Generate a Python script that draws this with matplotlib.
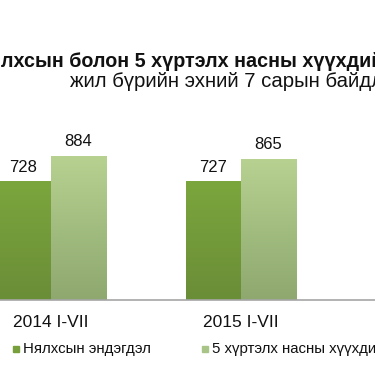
import numpy as np
import matplotlib
matplotlib.use('Agg')
import matplotlib.pyplot as plt
from matplotlib.colors import LinearSegmentedColormap
from matplotlib.patches import Rectangle

plt.rcParams['font.family'] = ['Liberation Sans', 'DejaVu Sans']

# data
categories = ['2014 I-VII', '2015 I-VII']
infant = [728, 727]
under5 = [884, 865]
series_names = ['Нялхсын эндэгдэл', '5 хүртэлх насны хүүхдийн эндэгдэл']
title = 'Нялхсын болон 5 хүртэлх насны хүүхдийн эндэгдэл'
subtitle = 'жил бүрийн эхний 7 сарын байдлаар'

W, H = 375, 366
PX = 0.1625  # pixels per unit on y
fig = plt.figure(figsize=(W / 100, H / 100), dpi=100)
r = fig.canvas.get_renderer()


def text_w(s, size, **kw):
    t = fig.text(0, 0, s, fontsize=size, **kw)
    w = t.get_window_extent(r).width
    t.remove()
    return w


# axes placed so the category spacing / scale matches the crop
ax = fig.add_axes([0, (H - 300) / H, 1, 200 / H])
x = np.arange(len(categories))
bw = 0.29

grad_dark = LinearSegmentedColormap.from_list('d', ['#6a8d37', '#7ba63d'])
grad_light = LinearSegmentedColormap.from_list('l', ['#8ea86f', '#b6d190'])

b1 = ax.bar(x - bw / 2, infant, bw, color='none')
b2 = ax.bar(x + bw / 2, under5, bw, color='none')
g = np.linspace(0, 1, 100).reshape(-1, 1)
for bars, cm in [(b1, grad_dark), (b2, grad_light)]:
    for rect in bars:
        x0, w_, h_ = rect.get_x(), rect.get_width(), rect.get_height()
        ax.imshow(g, cmap=cm, origin='lower', aspect='auto',
                  extent=(x0, x0 + w_, 0, h_), zorder=2)
ax.set_xlim(-51 / 190, (W - 51) / 190)
ax.set_ylim(0, 200 / PX)

for xi, v in zip(x, infant):
    ax.text(xi - bw / 2, v + 10 / PX, str(v), ha='center', va='baseline', fontsize=12, color='#111111')
for xi, v in zip(x, under5):
    ax.text(xi + bw / 2, v + 10 / PX, str(v), ha='center', va='baseline', fontsize=12, color='#111111')

ax.axhline(0, color='#a6a6a6', lw=1.2, zorder=3, clip_on=False)
for s in ax.spines.values():
    s.set_visible(False)
ax.set_xticks([])
ax.set_yticks([])
ax.patch.set_alpha(0)

for xi, c in zip(x, categories):
    ax.text(xi, -27 / PX, c, ha='center', va='baseline', fontsize=12.5, color='#111111')

# title, partly outside the crop on the left and right
ts = 11.5
ts = ts * 372 / text_w('лхсын болон 5 хүртэлх насны хүүхди', ts, fontweight='bold')
pre_w = text_w('Ня', ts, fontweight='bold')
fig.text((1 - pre_w) / W, 1 - 67 / H, title, fontsize=ts, fontweight='bold',
         va='baseline', ha='left', color='#111111')
ss = 11
ss = ss * 300 / text_w('жил бүрийн эхний 7 сарын байд', ss)
fig.text(70 / W, 1 - 87 / H, subtitle, fontsize=ss, va='baseline', ha='left', color='#111111')

# legend
leg_y = 353
for mx, name, col in [(13, series_names[0], '#77a03c'), (202, series_names[1], '#a9c487')]:
    fig.add_artist(Rectangle((mx / W, 1 - (leg_y - 1) / H), 6 / W, 6 / H,
                             transform=fig.transFigure, color=col))
    fig.text((mx + 10) / W, 1 - leg_y / H, name, fontsize=10.8, va='baseline', ha='left', color='#111111')

fig.savefig('out.png', dpi=100)
